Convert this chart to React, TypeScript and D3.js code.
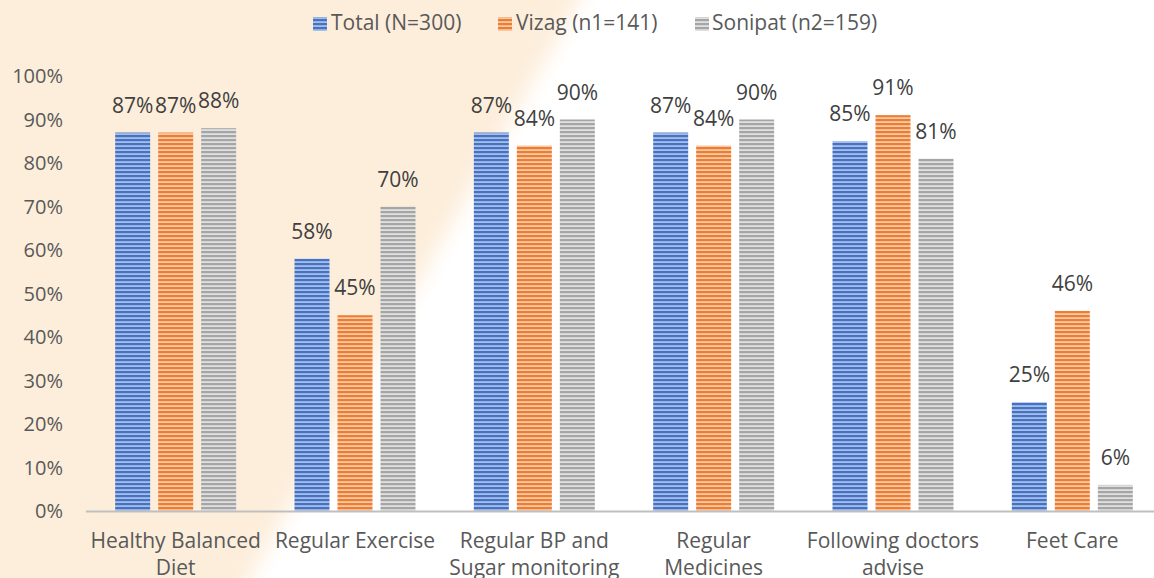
import React from "react";
import * as d3 from "d3";

const categories: string[][] = [
  ["Healthy Balanced", "Diet"],
  ["Regular Exercise"],
  ["Regular BP and", "Sugar monitoring"],
  ["Regular", "Medicines"],
  ["Following doctors", "advise"],
  ["Feet Care"],
];
const seriesNames = ["Total (N=300)", "Vizag (n1=141)", "Sonipat (n2=159)"];
const totalValues = [87, 58, 87, 87, 85, 25];
const vizagValues = [87, 45, 84, 84, 91, 46];
const sonipatValues = [88, 70, 90, 90, 81, 6];
const yTicks = [0, 10, 20, 30, 40, 50, 60, 70, 80, 90, 100];

const seriesColors = [
  { dark: "#4472C4", light: "#A9BEE6" },
  { dark: "#ED7D31", light: "#F8C9A8" },
  { dark: "#A5A5A5", light: "#E0E0E0" },
];

const W = 1154;
const H = 578;
const FONT = "'Open Sans', Carlito, Calibri, sans-serif";

export default function App() {
  const series = [totalValues, vizagValues, sonipatValues];
  const x0 = d3
    .scaleBand<number>()
    .domain(d3.range(categories.length))
    .range([86, 1162])
    .paddingInner(0)
    .paddingOuter(0);
  const y = d3.scaleLinear().domain([0, 100]).range([511, 76]);
  const barW = 35;
  const gap = 8;
  const groupW = 3 * barW + 2 * gap;

  return (
    <svg
      width={W}
      height={H}
      style={{ position: "absolute", left: 0, top: 0, display: "block" }}
      fontFamily={FONT}
    >
      <defs>
        <filter id="blur" x="-20%" y="-20%" width="140%" height="140%">
          <feGaussianBlur stdDeviation="10" />
        </filter>
        {seriesColors.map((c, i) => (
          <pattern
            key={i}
            id={`pat${i}`}
            patternUnits="userSpaceOnUse"
            width={4}
            height={4}
            y={511}
          >
            <rect width={4} height={4} fill={c.light} />
            <rect width={4} height={2.2} fill={c.dark} />
          </pattern>
        ))}
      </defs>
      <rect width={W} height={H} fill="#ffffff" />
      <polygon
        points="-40,-40 590,-40 580,0 250,578 240,620 -40,620"
        fill="#FDEEDB"
        filter="url(#blur)"
      />

      {/* y tick labels */}
      {yTicks.map((t) => (
        <text
          key={t}
          x={63}
          y={y(t)}
          dy="0.35em"
          textAnchor="end"
          fontSize={20}
          fill="#595959"
        >
          {t}%
        </text>
      ))}

      {/* bars */}
      {series.map((vals, si) =>
        vals.map((v, ci) => {
          const cx = x0(ci)! + x0.bandwidth() / 2;
          const bx = cx - groupW / 2 + si * (barW + gap);
          return (
            <g key={`${si}-${ci}`}>
              <rect
                x={bx}
                y={y(v)}
                width={barW}
                height={y(0) - y(v)}
                fill={`url(#pat${si})`}
              />
              <text
                x={bx + barW / 2}
                y={y(v) - 20}
                textAnchor="middle"
                fontSize={21}
                fill="#404040"
              >
                {v}%
              </text>
            </g>
          );
        })
      )}

      {/* x axis */}
      <line x1={86} x2={1162} y1={511.5} y2={511.5} stroke="#BFBFBF" strokeWidth={2} />
      {categories.map((lines, ci) => {
        const cx = x0(ci)! + x0.bandwidth() / 2;
        return (
          <text key={ci} textAnchor="middle" fontSize={21} fill="#595959">
            {lines.map((l, li) => (
              <tspan key={li} x={cx} y={548 + li * 27}>
                {l}
              </tspan>
            ))}
          </text>
        );
      })}

      {/* legend */}
      {(() => {
        const items = [
          { x: 313, tx: 331 },
          { x: 498, tx: 516 },
          { x: 695, tx: 712 },
        ];
        return seriesNames.map((n, i) => (
          <g key={n}>
            <rect x={items[i].x} y={17} width={14} height={14} fill={`url(#pat${i})`} />
            <text x={items[i].tx} y={23} dy="0.35em" fontSize={21} fill="#595959">
              {n}
            </text>
          </g>
        ));
      })()}
    </svg>
  );
}
